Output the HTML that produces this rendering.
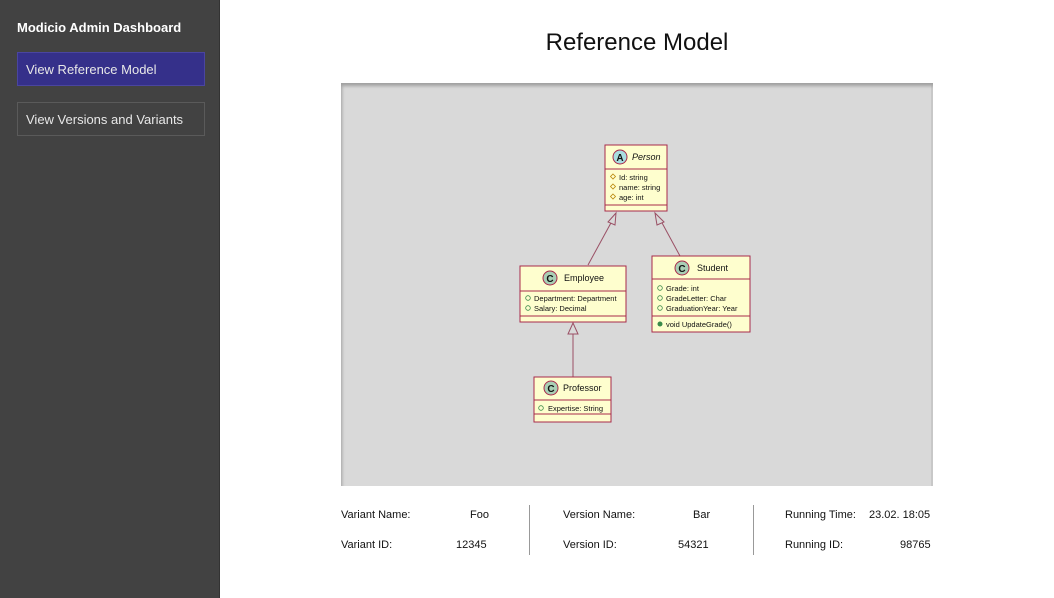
<!DOCTYPE html>
<html><head><meta charset="utf-8"><style>
body{margin:0;width:1054px;height:598px;background:#fff;font-family:"Liberation Sans",sans-serif;position:relative;overflow:hidden}
.sb{position:absolute;left:0;top:0;width:219px;height:598px;background:#424242;border-right:1px solid #333}
.t{position:absolute;color:#fff;font-weight:bold;font-size:13px;left:17px;top:20px}
.b{position:absolute;left:17px;width:188px;height:34px;box-sizing:border-box;color:#e8e8e8;font-size:13px;line-height:33px;padding-left:8px;border:1px solid #5a5a5a}
.h1{position:absolute;left:341px;width:592px;top:29px;text-align:center;font-size:24px;color:#111}
.panel{position:absolute;left:341px;top:83px;width:592px;height:403px;background:#d9d9d9;box-shadow:inset 2px 4px 3px -1px #a0a0a0,inset -2px 0 0 #c8c8c8}
.i{position:absolute;font-size:11px;color:#111}
.v{position:absolute;width:1px;background:#999;top:505px;height:50px}
</style></head><body>
<div class="sb"><div class="t">Modicio Admin Dashboard</div>
<div class="b" style="top:52px;background:#35308a;border-color:#4a45a0">View Reference Model</div>
<div class="b" style="top:102px">View Versions and Variants</div></div>
<div class="h1">Reference Model</div>
<div class="panel"></div>
<svg style="position:absolute;left:0;top:0" width="1054" height="598" font-family="Liberation Sans,sans-serif" font-size="8" fill="#111">
<g stroke="#9a5065" fill="none" stroke-width="1">
<line x1="588" y1="265" x2="612" y2="221"/><polygon points="616,213 608,222 615,225" fill="#d9d9d9"/>
<line x1="680" y1="256" x2="661" y2="221"/><polygon points="655,213 657,225 664,222" fill="#d9d9d9"/>
<line x1="573" y1="377" x2="573" y2="334"/><polygon points="573,323 568,334 578,334" fill="#d9d9d9"/>
</g>
<g stroke="#a8294a" fill="#fefece">
<rect x="605" y="145" width="62" height="66"/><line x1="605" y1="169" x2="667" y2="169"/><line x1="605" y1="205" x2="667" y2="205"/>
<rect x="520" y="266" width="106" height="56"/><line x1="520" y1="291" x2="626" y2="291"/><line x1="520" y1="316" x2="626" y2="316"/>
<rect x="652" y="256" width="98" height="76"/><line x1="652" y1="279" x2="750" y2="279"/><line x1="652" y1="316" x2="750" y2="316"/>
<rect x="534" y="377" width="77" height="45"/><line x1="534" y1="400" x2="611" y2="400"/><line x1="534" y1="414" x2="611" y2="414"/>
</g>
<g stroke="#a8294a" stroke-width="1">
<circle cx="620" cy="157" r="7" fill="#a9dde0"/><circle cx="550" cy="278" r="7" fill="#a9cfb5"/><circle cx="682" cy="268" r="7" fill="#a9cfb5"/><circle cx="551" cy="388" r="7" fill="#a9cfb5"/>
</g>
<g font-weight="bold" font-size="10" text-anchor="middle"><text x="620" y="161">A</text><text x="550" y="282">C</text><text x="682" y="272">C</text><text x="551" y="392">C</text></g>
<text x="632" y="160" font-style="italic" font-size="9">Person</text>
<text x="564" y="281" font-size="9">Employee</text>
<text x="697" y="271" font-size="9">Student</text>
<text x="563" y="391" font-size="9">Professor</text>
<g font-size="7.5">
<text x="619" y="180">Id: string</text><text x="619" y="190">name: string</text><text x="619" y="200">age: int</text>
<text x="534" y="301">Department: Department</text><text x="534" y="311">Salary: Decimal</text>
<text x="666" y="291">Grade: int</text><text x="666" y="301">GradeLetter: Char</text><text x="666" y="311">GraduationYear: Year</text><text x="666" y="327">void UpdateGrade()</text>
<text x="548" y="411">Expertise: String</text>
</g>
<g fill="none" stroke="#b8860b" stroke-width=".8">
<path d="M613 174l2.5 2.5-2.5 2.5-2.5-2.5z"/><path d="M613 184l2.5 2.5-2.5 2.5-2.5-2.5z"/><path d="M613 194l2.5 2.5-2.5 2.5-2.5-2.5z"/></g>
<g fill="none" stroke="#3a8a4a" stroke-width=".8">
<circle cx="528" cy="298" r="2.3"/><circle cx="528" cy="308" r="2.3"/><circle cx="660" cy="288" r="2.3"/><circle cx="660" cy="298" r="2.3"/><circle cx="660" cy="308" r="2.3"/><circle cx="541" cy="408" r="2.3"/></g>
<circle cx="660" cy="324" r="2.5" fill="#3a8a4a"/>
</svg>
<div class="i" style="left:341px;top:509px">Variant Name:</div><div class="i" style="left:470px;top:509px">Foo</div>
<div class="i" style="left:341px;top:539px">Variant ID:</div><div class="i" style="left:456px;top:539px">12345</div>
<div class="v" style="left:529px"></div>
<div class="i" style="left:563px;top:509px">Version Name:</div><div class="i" style="left:693px;top:509px">Bar</div>
<div class="i" style="left:563px;top:539px">Version ID:</div><div class="i" style="left:678px;top:539px">54321</div>
<div class="v" style="left:753px"></div>
<div class="i" style="left:785px;top:509px">Running Time:</div><div class="i" style="left:869px;top:509px">23.02. 18:05</div>
<div class="i" style="left:785px;top:539px">Running ID:</div><div class="i" style="left:900px;top:539px">98765</div>
</body></html>
